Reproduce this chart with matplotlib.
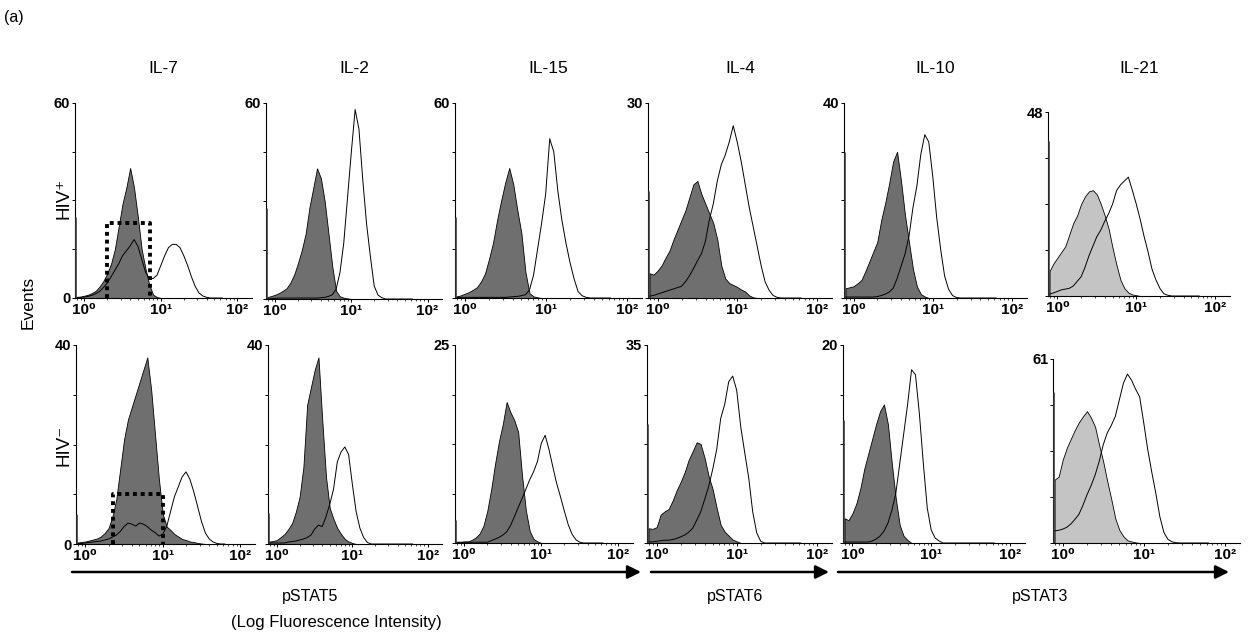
import numpy as np
import matplotlib
matplotlib.use('Agg')
import matplotlib.pyplot as plt
from matplotlib.ticker import LogLocator, NullFormatter

plt.rcParams['font.family'] = ['Liberation Sans', 'DejaVu Sans']

W, H = 1250, 644

# bin centres, log10 of fluorescence intensity
log_bins = np.round(np.arange(-0.10, 1.801, 0.05), 2)

cytokines = ['IL-7', 'IL-2', 'IL-15', 'IL-4', 'IL-10', 'IL-21']
ymax_pos = [60, 60, 60, 30, 40, 48]
ymax_neg = [40, 40, 25, 35, 20, 61]
# pile-up in the first channel
edge_pos = [25, 28, 25, 16.5, 30, 40.5]
edge_neg = [6, 6.2, 2.9, 21, 12.4, 50]

# gates drawn on IL-7: (low, high, height)
gate_pos = (2.0, 7.2, 23)
gate_neg = (2.3, 10.0, 10)

# HIV+ donors, unstimulated (filled) and stimulated (open)
il7_pos_unstim = [0.3, 0.4, 0.7, 1.0, 1.5, 2.2, 3.5, 5.2, 7.5, 10.5, 15, 22, 29, 34, 40, 34, 25, 15, 9, 4, 1, 0.3]
il7_pos_stim = [0.2, 0.2, 0.3, 0.5, 0.8, 1.3, 2.0, 3.2, 4.6, 6.5, 8.5, 10.5, 13, 14.5, 16, 18, 16, 12, 8, 6, 6, 7,
                10, 13, 15.5, 16.5, 16.5, 15.5, 13, 10, 6.5, 3.5, 1.5, 0.6, 0.2]
il2_pos_unstim = [0.6, 0.9, 1.3, 1.8, 2.5, 3.3, 5, 7.5, 11, 15, 20, 28, 34, 40, 37, 30, 20, 10, 2.5, 0.8, 0.4, 0.2]
il2_pos_stim = [0, 0.1, 0.2, 0.3, 0.3, 0.3, 0.3, 0.3, 0.3, 0.3, 0.3, 0.3, 0.3, 0.3, 0.4, 0.5, 0.8, 1.3, 3, 8, 17,
                31, 45, 58, 52, 36.5, 23, 13, 4, 1.2, 0.4]
il15_pos_unstim = [0.5, 0.8, 1.3, 1.8, 2.5, 3.3, 5, 7.5, 12, 17, 24, 30, 35.5, 40, 35, 27, 20, 8, 1.5, 0.5, 0.2]
il15_pos_stim = [0.2, 0.2, 0.2, 0.2, 0.2, 0.2, 0.2, 0.2, 0.2, 0.2, 0.2, 0.2, 0.2, 0.3, 0.4, 0.5, 0.7, 1.0, 2.5, 7,
                 15, 23, 32, 49, 45, 33, 24, 17, 11, 6, 2, 0.7, 0.2]
il4_pos_unstim = [3.8, 3.6, 4.2, 5, 6.2, 7.3, 9, 10.5, 12, 13.5, 15.5, 17.5, 18, 16, 14.5, 13, 11.5, 9, 5, 3, 2.3,
                  2, 1.7, 1.3, 1, 0.4, 0.1]
il4_pos_stim = [0.3, 0.4, 0.6, 0.8, 1.0, 1.2, 1.4, 1.6, 1.8, 2.5, 3.4, 4.5, 5.7, 6.8, 8.7, 12, 14.5, 18, 20.5, 22,
                24, 26.5, 24, 21, 17.5, 14, 11, 8, 5, 2.5, 1.2, 0.4, 0.1]
il10_pos_unstim = [2, 2.2, 2.4, 3, 3.7, 5.5, 7.5, 9.5, 11.5, 16, 19.5, 23.5, 28, 30, 24, 17, 11.5, 6, 2.4, 0.8, 0.3]
il10_pos_stim = [0.2, 0.2, 0.2, 0.2, 0.2, 0.2, 0.2, 0.2, 0.3, 0.5, 0.8, 1.2, 2, 4, 6.5, 9, 12.6, 18.5, 23, 29.5,
                 33.5, 32, 25, 16.5, 10, 4.5, 1.8, 0.5, 0.1]
il21_pos_unstim = [6.5, 8.5, 10, 11.5, 13, 16, 19, 21, 24, 26, 27.3, 27.6, 26.5, 24, 21, 17.5, 12.5, 8, 4.2, 2,
                   0.9, 0.4, 0.2]
il21_pos_stim = [0.5, 0.8, 1.2, 1.6, 1.8, 2, 2.6, 3.8, 5, 7.5, 10.5, 13, 15.5, 17.2, 19.5, 21.5, 24, 27.5, 29, 30,
                 31, 27.6, 24, 20, 15.5, 11.5, 7, 4.2, 2, 0.6, 0.2]

# HIV- donors
il7_neg_unstim = [0.3, 0.4, 0.5, 0.7, 0.9, 1.1, 1.5, 2.2, 3.2, 5.5, 9, 15, 21, 25, 27.5, 30, 32.5, 35, 37.5, 31,
                  22, 13, 6, 3.5, 2.8, 2.0, 1.5, 1.0, 0.8, 0.5, 0.4, 0.2, 0.1]
il7_neg_stim = [0.1, 0.1, 0.2, 0.3, 0.4, 0.5, 0.6, 0.8, 1.0, 1.4, 1.8, 2.5, 3.5, 4.2, 4.0, 3.6, 4.2, 4.0, 3.5, 2.8,
                2.3, 1.6, 2.0, 3.5, 6.5, 9.5, 11.5, 13.5, 14.5, 13, 10.5, 7.5, 4.5, 2.2, 1.0, 0.4, 0.1]
il2_neg_unstim = [0.5, 0.6, 0.8, 1.4, 2.0, 3.0, 4.2, 6.5, 9.5, 15.5, 28, 31.5, 35, 37.5, 25, 13.5, 7.2, 5, 3.2, 2,
                  1, 0.5, 0.2]
il2_neg_stim = [0.2, 0.2, 0.2, 0.2, 0.2, 0.4, 0.5, 0.6, 0.8, 1.0, 1.3, 1.8, 3, 3.8, 3.5, 5.5, 8, 11, 16.5, 18.5,
                19.5, 18, 12, 6.5, 3.2, 1.3, 0.3]
il15_neg_unstim = [0.1, 0.1, 0.2, 0.2, 0.4, 0.7, 1.2, 2.2, 4.1, 6.8, 10, 12.8, 15, 17.8, 16.5, 15.5, 14, 8.5, 4.1,
                   1.5, 0.5, 0.2]
il15_neg_stim = [0.1, 0.1, 0.1, 0.1, 0.1, 0.1, 0.1, 0.1, 0.1, 0.3, 0.5, 0.7, 1.0, 1.4, 2.2, 3.3, 4.5, 5.6, 6.8, 8,
                 9, 10.3, 12.6, 13.6, 11.8, 9.6, 7.5, 5.8, 4, 2.3, 1.1, 0.4, 0.1]
il4_neg_unstim = [2.6, 2.5, 2.8, 5, 5.6, 6, 7.5, 9.3, 10.8, 12.5, 14.7, 16.2, 17.8, 17.5, 15, 11.8, 9.5, 6.2, 3.2,
                  2, 1.3, 0.6, 0.3]
il4_neg_stim = [0.2, 0.2, 0.3, 0.4, 0.5, 0.5, 0.6, 0.8, 1.1, 1.4, 1.9, 2.6, 4, 5.5, 7.7, 10, 13, 16.5, 22, 24.5,
                28.5, 29.5, 27, 20.6, 16, 11.5, 5.5, 1.8, 0.3]
il10_neg_unstim = [2.5, 2.3, 3, 4, 5.5, 7.5, 9, 10.5, 12, 13.3, 14, 12, 8, 4.5, 1.8, 0.7, 0.3]
il10_neg_stim = [0.1, 0.1, 0.1, 0.1, 0.1, 0.1, 0.1, 0.2, 0.4, 0.7, 1.2, 2, 3.3, 5, 8, 11, 14, 17.5, 17, 13, 8, 3.5,
                 1.3, 0.5, 0.2]
il21_neg_unstim = [21, 22, 27.6, 31.5, 34.5, 37.5, 40, 42, 43.7, 41.5, 38.5, 32.5, 27, 20.5, 14.5, 8.1, 4.3, 2.2,
                   0.9, 0.5, 0.2]
il21_neg_stim = [4, 4.2, 4.6, 5.2, 6.3, 7.8, 9.5, 12.5, 16, 19, 22.5, 27, 32.5, 36.5, 39, 42, 47.5, 53, 56, 54, 51,
                 48.5, 40, 31, 23.5, 16.5, 8.7, 3.5, 1.2, 0.4, 0.1]

unstim_pos = [il7_pos_unstim, il2_pos_unstim, il15_pos_unstim, il4_pos_unstim, il10_pos_unstim, il21_pos_unstim]
stim_pos = [il7_pos_stim, il2_pos_stim, il15_pos_stim, il4_pos_stim, il10_pos_stim, il21_pos_stim]
unstim_neg = [il7_neg_unstim, il2_neg_unstim, il15_neg_unstim, il4_neg_unstim, il10_neg_unstim, il21_neg_unstim]
stim_neg = [il7_neg_stim, il2_neg_stim, il15_neg_stim, il4_neg_stim, il10_neg_stim, il21_neg_stim]

# panel frames in pixels: left, top, right, bottom
frames_pos = [(75, 103, 252, 298), (266, 103, 442, 299), (455, 103, 642, 298),
              (648, 103, 832, 298), (844, 103, 1027, 298), (1048, 112, 1230, 296)]
frames_neg = [(76, 345, 255, 544), (268, 345, 442, 544), (455, 345, 633, 543),
              (647, 345, 832, 543), (843, 345, 1025, 543), (1053, 359, 1240, 543)]

DARK = '#6f6f6f'
LIGHT = '#c4c4c4'
XMIN, XMAX = 10 ** -0.12, 10 ** 2.19


def pad(vals):
    out = np.zeros(len(log_bins))
    out[:len(vals)] = vals
    return out


def draw_panel(fig, frame, ymax, edge, unstim, stim, fill, first_col, gate):
    l, t, r, b = frame
    ax = fig.add_axes([l / W, 1 - b / H, (r - l) / W, (b - t) / H])
    x = 10 ** log_bins
    ax.fill_between(x, pad(unstim), color=fill, edgecolor='black', lw=0.6, zorder=2)
    ax.plot(x, pad(stim), color='black', lw=0.7, zorder=3)
    ax.vlines(10 ** -0.114, 0, edge, color='#2a2a2a', lw=1.8, zorder=3)
    if gate is not None:
        g0, g1, gh = gate
        ax.plot([g0, g0, g1, g1], [0, gh, gh, 0], color='black', lw=2.8,
                ls=(0, (1, 1)), zorder=4, solid_capstyle='butt')

    ax.set_xscale('log')
    ax.set_xlim(XMIN, XMAX)
    ax.set_ylim(0, ymax)
    ax.spines['top'].set_visible(False)
    ax.spines['right'].set_visible(False)
    for s in ('left', 'bottom'):
        ax.spines[s].set_linewidth(0.8)

    ax.set_xticks([1, 10, 100])
    ax.set_xticklabels(['10\u2070', '10\u00b9', '10\u00b2'], fontweight='bold', fontsize=11)
    ax.xaxis.set_minor_locator(LogLocator(base=10, subs=range(2, 10)))
    ax.xaxis.set_minor_formatter(NullFormatter())
    ax.tick_params(axis='x', which='major', length=2.5, width=0.7, pad=1)
    ax.tick_params(axis='x', which='minor', length=1.3, width=0.5)

    ax.set_yticks(np.linspace(0, ymax, 5))
    ax.set_yticklabels(['0' if first_col else '', '', '', '', str(ymax)],
                       fontweight='bold', fontsize=10.5)
    ax.tick_params(axis='y', length=2.5, width=0.7, pad=1)
    return ax


fig = plt.figure(figsize=(W / 100, H / 100), dpi=100)

for i in range(6):
    fill = LIGHT if cytokines[i] == 'IL-21' else DARK
    draw_panel(fig, frames_pos[i], ymax_pos[i], edge_pos[i], unstim_pos[i], stim_pos[i],
               fill, i == 0, gate_pos if i == 0 else None)
    draw_panel(fig, frames_neg[i], ymax_neg[i], edge_neg[i], unstim_neg[i], stim_neg[i],
               fill, i == 0, gate_neg if i == 0 else None)

# labels and arrows in pixel coordinates
ov = fig.add_axes([0, 0, 1, 1])
ov.set_xlim(0, W)
ov.set_ylim(H, 0)
ov.axis('off')
ov.patch.set_alpha(0)

ov.text(4, 17, '(a)', fontsize=11.5, va='center', ha='left')
for i, name in enumerate(cytokines):
    l, t, r, b = frames_pos[i]
    ov.text((l + r) / 2, 68, name, fontsize=12.5, ha='center', va='center')

ov.text(64, 198, 'HIV\u207a', rotation=90, fontsize=13.5, ha='center', va='center')
ov.text(64, 445, 'HIV\u207b', rotation=90, fontsize=13.5, ha='center', va='center')
ov.text(28, 302, 'Events', rotation=90, fontsize=12.5, ha='center', va='center')

for x0, x1, lab, xl in [(72, 641, 'pSTAT5', 310), (651, 829, 'pSTAT6', 735), (838, 1229, 'pSTAT3', 1040)]:
    ov.annotate('', xy=(x1, 572), xytext=(x0, 572),
                arrowprops=dict(arrowstyle='-|>', lw=1.8, color='black', mutation_scale=20,
                                shrinkA=0, shrinkB=0))
    ov.text(xl, 597, lab, fontsize=11.5, ha='center', va='center')

ov.text(336, 623, '(Log Fluorescence Intensity)', fontsize=12, ha='center', va='center')

fig.savefig('out.png', dpi=100)
